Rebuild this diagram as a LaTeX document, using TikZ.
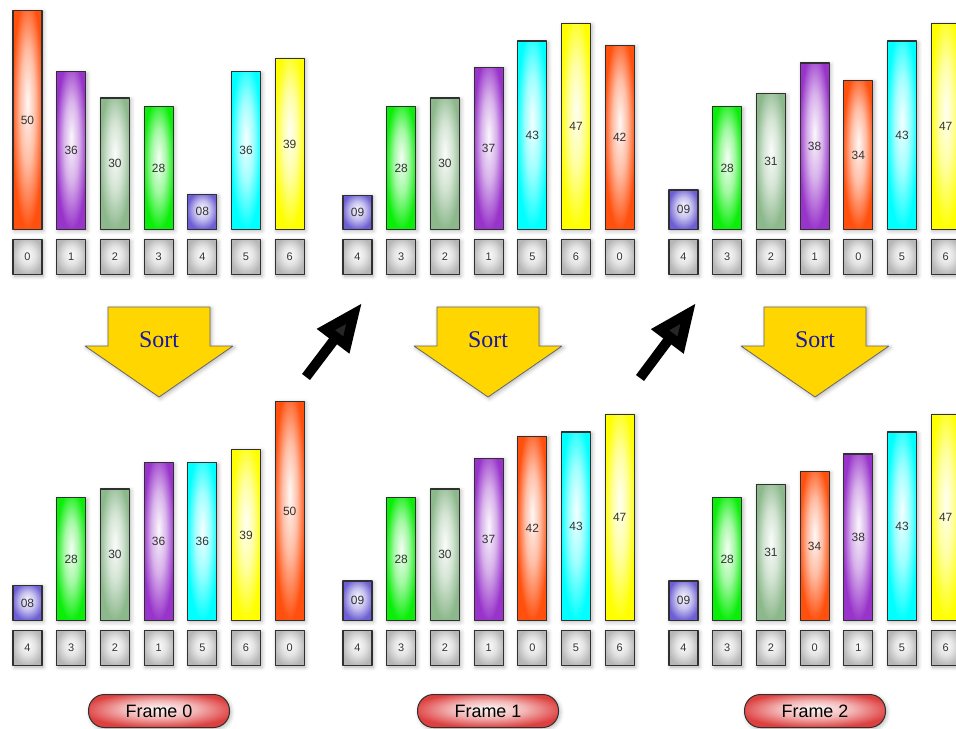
\documentclass[tikz,border=0pt]{standalone}
\usepackage{fontspec}
\setmainfont{Liberation Serif}
\setsansfont{Liberation Sans}
\usetikzlibrary{arrows.meta,shadows.blur}

\definecolor{barorange}{RGB}{255,80,14}
\definecolor{barpurple}{RGB}{152,52,202}
\definecolor{barsage}{RGB}{140,184,140}
\definecolor{bargreen}{RGB}{10,238,10}
\definecolor{barblue}{RGB}{108,94,212}
\definecolor{barcyan}{RGB}{0,255,255}
\definecolor{baryellow}{RGB}{255,255,0}
\definecolor{slotgray}{RGB}{182,182,182}
\definecolor{framered}{RGB}{222,64,64}
\definecolor{sortgold}{RGB}{255,214,0}
\definecolor{sortblue}{RGB}{24,24,160}
\definecolor{edgegray}{RGB}{48,48,48}

% glossy fill, highlight a bit above the middle
\pgfdeclareradialshading[barhue]{glossy}{\pgfpoint{0bp}{4bp}}{%
  color(0bp)=(barhue!4!white); color(13bp)=(barhue!38!white);
  color(27bp)=(barhue); color(50bp)=(barhue)}

\tikzset{
  glossy/.code={\colorlet{barhue}{#1}\tikzset{shading=glossy}},
  soft shadow/.style={blur shadow={shadow xshift=1.5bp, shadow yshift=-1.5bp,
      shadow blur radius=4bp, shadow opacity=30}},
  bar/.style={glossy=#1, draw=edgegray, line width=1.2bp, anchor=south,
    minimum width=29bp, inner sep=0pt, soft shadow,
    font=\sffamily\fontsize{12}{12}\selectfont, text=black!80},
  slot/.style={glossy=slotgray, draw=edgegray, line width=1.2bp, anchor=north,
    minimum width=29bp, minimum height=35bp, inner sep=0pt, soft shadow,
    font=\sffamily\fontsize{11}{11}\selectfont, text=black!80},
  framelabel/.style={glossy=framered, draw=edgegray, line width=1bp,
    rounded corners=16bp, minimum width=141bp, minimum height=33bp, soft shadow,
    font=\sffamily\fontsize{18}{18}\selectfont},
  sortarrow/.style={fill=sortgold, draw=black!60, line width=0.8bp, soft shadow},
  sortlabel/.style={text=sortblue, font=\fontsize{24}{24}\selectfont},
  nextarrow/.style={line width=10bp, -{Triangle[length=48bp,width=38bp]}},
}

\begin{document}
\begin{tikzpicture}[x=1bp,y=-1bp,>=latex,line join=bevel]
  \useasboundingbox (0,0) rectangle (956,729);
  \clip (0,0) rectangle (956,729);
%%
  % Panel: in0 (frame 0, unsorted)
  \foreach \h/\v/\c/\k [count=\i from 0] in {50/50/barorange/0, 36/36/barpurple/1,
      30/30/barsage/2, 28/28/bargreen/3, 8/08/barblue/4, 36/36/barcyan/5, 39/39/baryellow/6} {
    \node[bar=\c, minimum height=\h*4.38bp] (in0-bar\i) at (27.5+\i*43.7,230) {\v};
    \node[slot] (in0-slot\i) at (27.5+\i*43.7,239) {\k};
  }
  % Panel: out0 (frame 0, sorted)
  \foreach \h/\v/\c/\k [count=\i from 0] in {8/08/barblue/4, 28/28/bargreen/3,
      30/30/barsage/2, 36/36/barpurple/1, 36/36/barcyan/5, 39/39/baryellow/6, 50/50/barorange/0} {
    \node[bar=\c, minimum height=\h*4.38bp] (out0-bar\i) at (27.5+\i*43.7,621) {\v};
    \node[slot] (out0-slot\i) at (27.5+\i*43.7,630) {\k};
  }
  % Panel: in1 (frame 1, unsorted)
  \foreach \h/\v/\c/\k [count=\i from 0] in {7.8/09/barblue/4, 28/28/bargreen/3,
      30/30/barsage/2, 37/37/barpurple/1, 43/43/barcyan/5, 47/47/baryellow/6, 42/42/barorange/0} {
    \node[bar=\c, minimum height=\h*4.38bp] (in1-bar\i) at (357.5+\i*43.7,230) {\v};
    \node[slot] (in1-slot\i) at (357.5+\i*43.7,239) {\k};
  }
  % Panel: out1 (frame 1, sorted)
  \foreach \h/\v/\c/\k [count=\i from 0] in {9/09/barblue/4, 28/28/bargreen/3,
      30/30/barsage/2, 37/37/barpurple/1, 42/42/barorange/0, 43/43/barcyan/5, 47/47/baryellow/6} {
    \node[bar=\c, minimum height=\h*4.38bp] (out1-bar\i) at (357.5+\i*43.7,621) {\v};
    \node[slot] (out1-slot\i) at (357.5+\i*43.7,630) {\k};
  }
  % Panel: in2 (frame 2, unsorted)
  \foreach \h/\v/\c/\k [count=\i from 0] in {9/09/barblue/4, 28/28/bargreen/3,
      31/31/barsage/2, 38/38/barpurple/1, 34/34/barorange/0, 43/43/barcyan/5, 47/47/baryellow/6} {
    \node[bar=\c, minimum height=\h*4.38bp] (in2-bar\i) at (683.5+\i*43.7,230) {\v};
    \node[slot] (in2-slot\i) at (683.5+\i*43.7,239) {\k};
  }
  % Panel: out2 (frame 2, sorted)
  \foreach \h/\v/\c/\k [count=\i from 0] in {9/09/barblue/4, 28/28/bargreen/3,
      31/31/barsage/2, 34/34/barorange/0, 38/38/barpurple/1, 43/43/barcyan/5, 47/47/baryellow/6} {
    \node[bar=\c, minimum height=\h*4.38bp] (out2-bar\i) at (683.5+\i*43.7,621) {\v};
    \node[slot] (out2-slot\i) at (683.5+\i*43.7,630) {\k};
  }
  % Node: sort steps
  \foreach \x/\n in {159/0, 488/1, 815/2} {
    \draw[sortarrow] (\x-51,307) -- (\x+51,307) -- (\x+51,346) -- (\x+74,346)
      -- (\x,397) -- (\x-74,346) -- (\x-51,346) -- cycle;
    \node[sortlabel] (sort\n) at (\x,340) {Sort};
  }
  % Node: frame captions
  \node[framelabel] (frame0) at (159,711) {Frame 0};
  \node[framelabel] (frame1) at (488,711) {Frame 1};
  \node[framelabel] (frame2) at (815,711) {Frame 2};
  % Edge: out0 -> in1
  \coordinate (lift0) at (306,377);
  \coordinate (land1) at (362,303);
  \draw[nextarrow] (lift0) -- (land1);
  % Edge: out1 -> in2
  \coordinate (lift1) at (640,378);
  \coordinate (land2) at (696,303);
  \draw[nextarrow] (lift1) -- (land2);
%
\end{tikzpicture}
\end{document}
